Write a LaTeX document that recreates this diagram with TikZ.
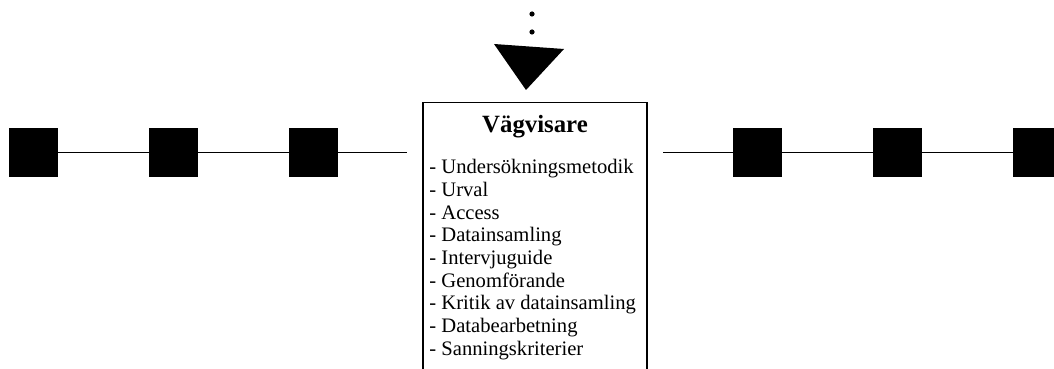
\documentclass[tikz,border=0pt]{standalone}
\usepackage{fontspec}
\setmainfont{Liberation Serif}
\usetikzlibrary{positioning}

\begin{document}
\begin{tikzpicture}[x=0.5pt, y=-0.5pt,% one unit = one pixel of the layout
 blk/.style = {draw, fill, minimum size=24pt,
               inner sep=0pt, outer sep=0pt},
 dot/.style = {circle, fill,
               minimum size=2.6pt, inner sep=0pt, outer sep=0pt},
link/.style = {line width=0.6pt},
                    ]
	\useasboundingbox (0,0) rectangle (1054,369);
	\clip (0,0) rectangle (1054,369);

	% left chain
	\node[blk] (l1) at (33.5,152.5) {};
	\node[blk] (l2) at (173.5,152.5) {};
	\node[blk] (l3) at (313.5,152.5) {};
	\coordinate (lend) at (407,152.5);
	\draw[link] (l1) -- (l2) (l2) -- (l3) (l3) -- (lend);

	% right chain
	\coordinate (rstart) at (663,152.5);
	\node[blk] (r1) at (757,152.5) {};
	\node[blk] (r2) at (897,152.5) {};
	\node[blk] (r3) at (1037,152.5) {};
	\draw[link] (rstart) -- (r1) (r1) -- (r2) (r2) -- (r3);

	% dots and arrow head
	\node[dot] (d1) at (532,14) {};
	\node[dot] (d2) at (532,32) {};
	\fill (494,44) -- (564,49) -- (526,90) -- cycle;

	% the guide box
	\node[draw, line width=0.6pt, minimum width=112pt, minimum height=140pt,
	      anchor=north, inner sep=0pt] (guide) at (535,102) {};
	\node[anchor=base, inner sep=0pt,
	      font=\bfseries\fontsize{12.4}{14}\selectfont] (title) at (535,133) {Vägvisare};
	\node[anchor=north west, inner sep=0pt, align=left,
	      font=\fontsize{10.3}{11.35}\selectfont] (items) at (429,159) {%
		- Undersökningsmetodik\\
		- Urval\\
		- Access\\
		- Datainsamling\\
		- Intervjuguide\\
		- Genomförande\\
		- Kritik av datainsamling\\
		- Databearbetning\\
		- Sanningskriterier};
\end{tikzpicture}
\end{document}
